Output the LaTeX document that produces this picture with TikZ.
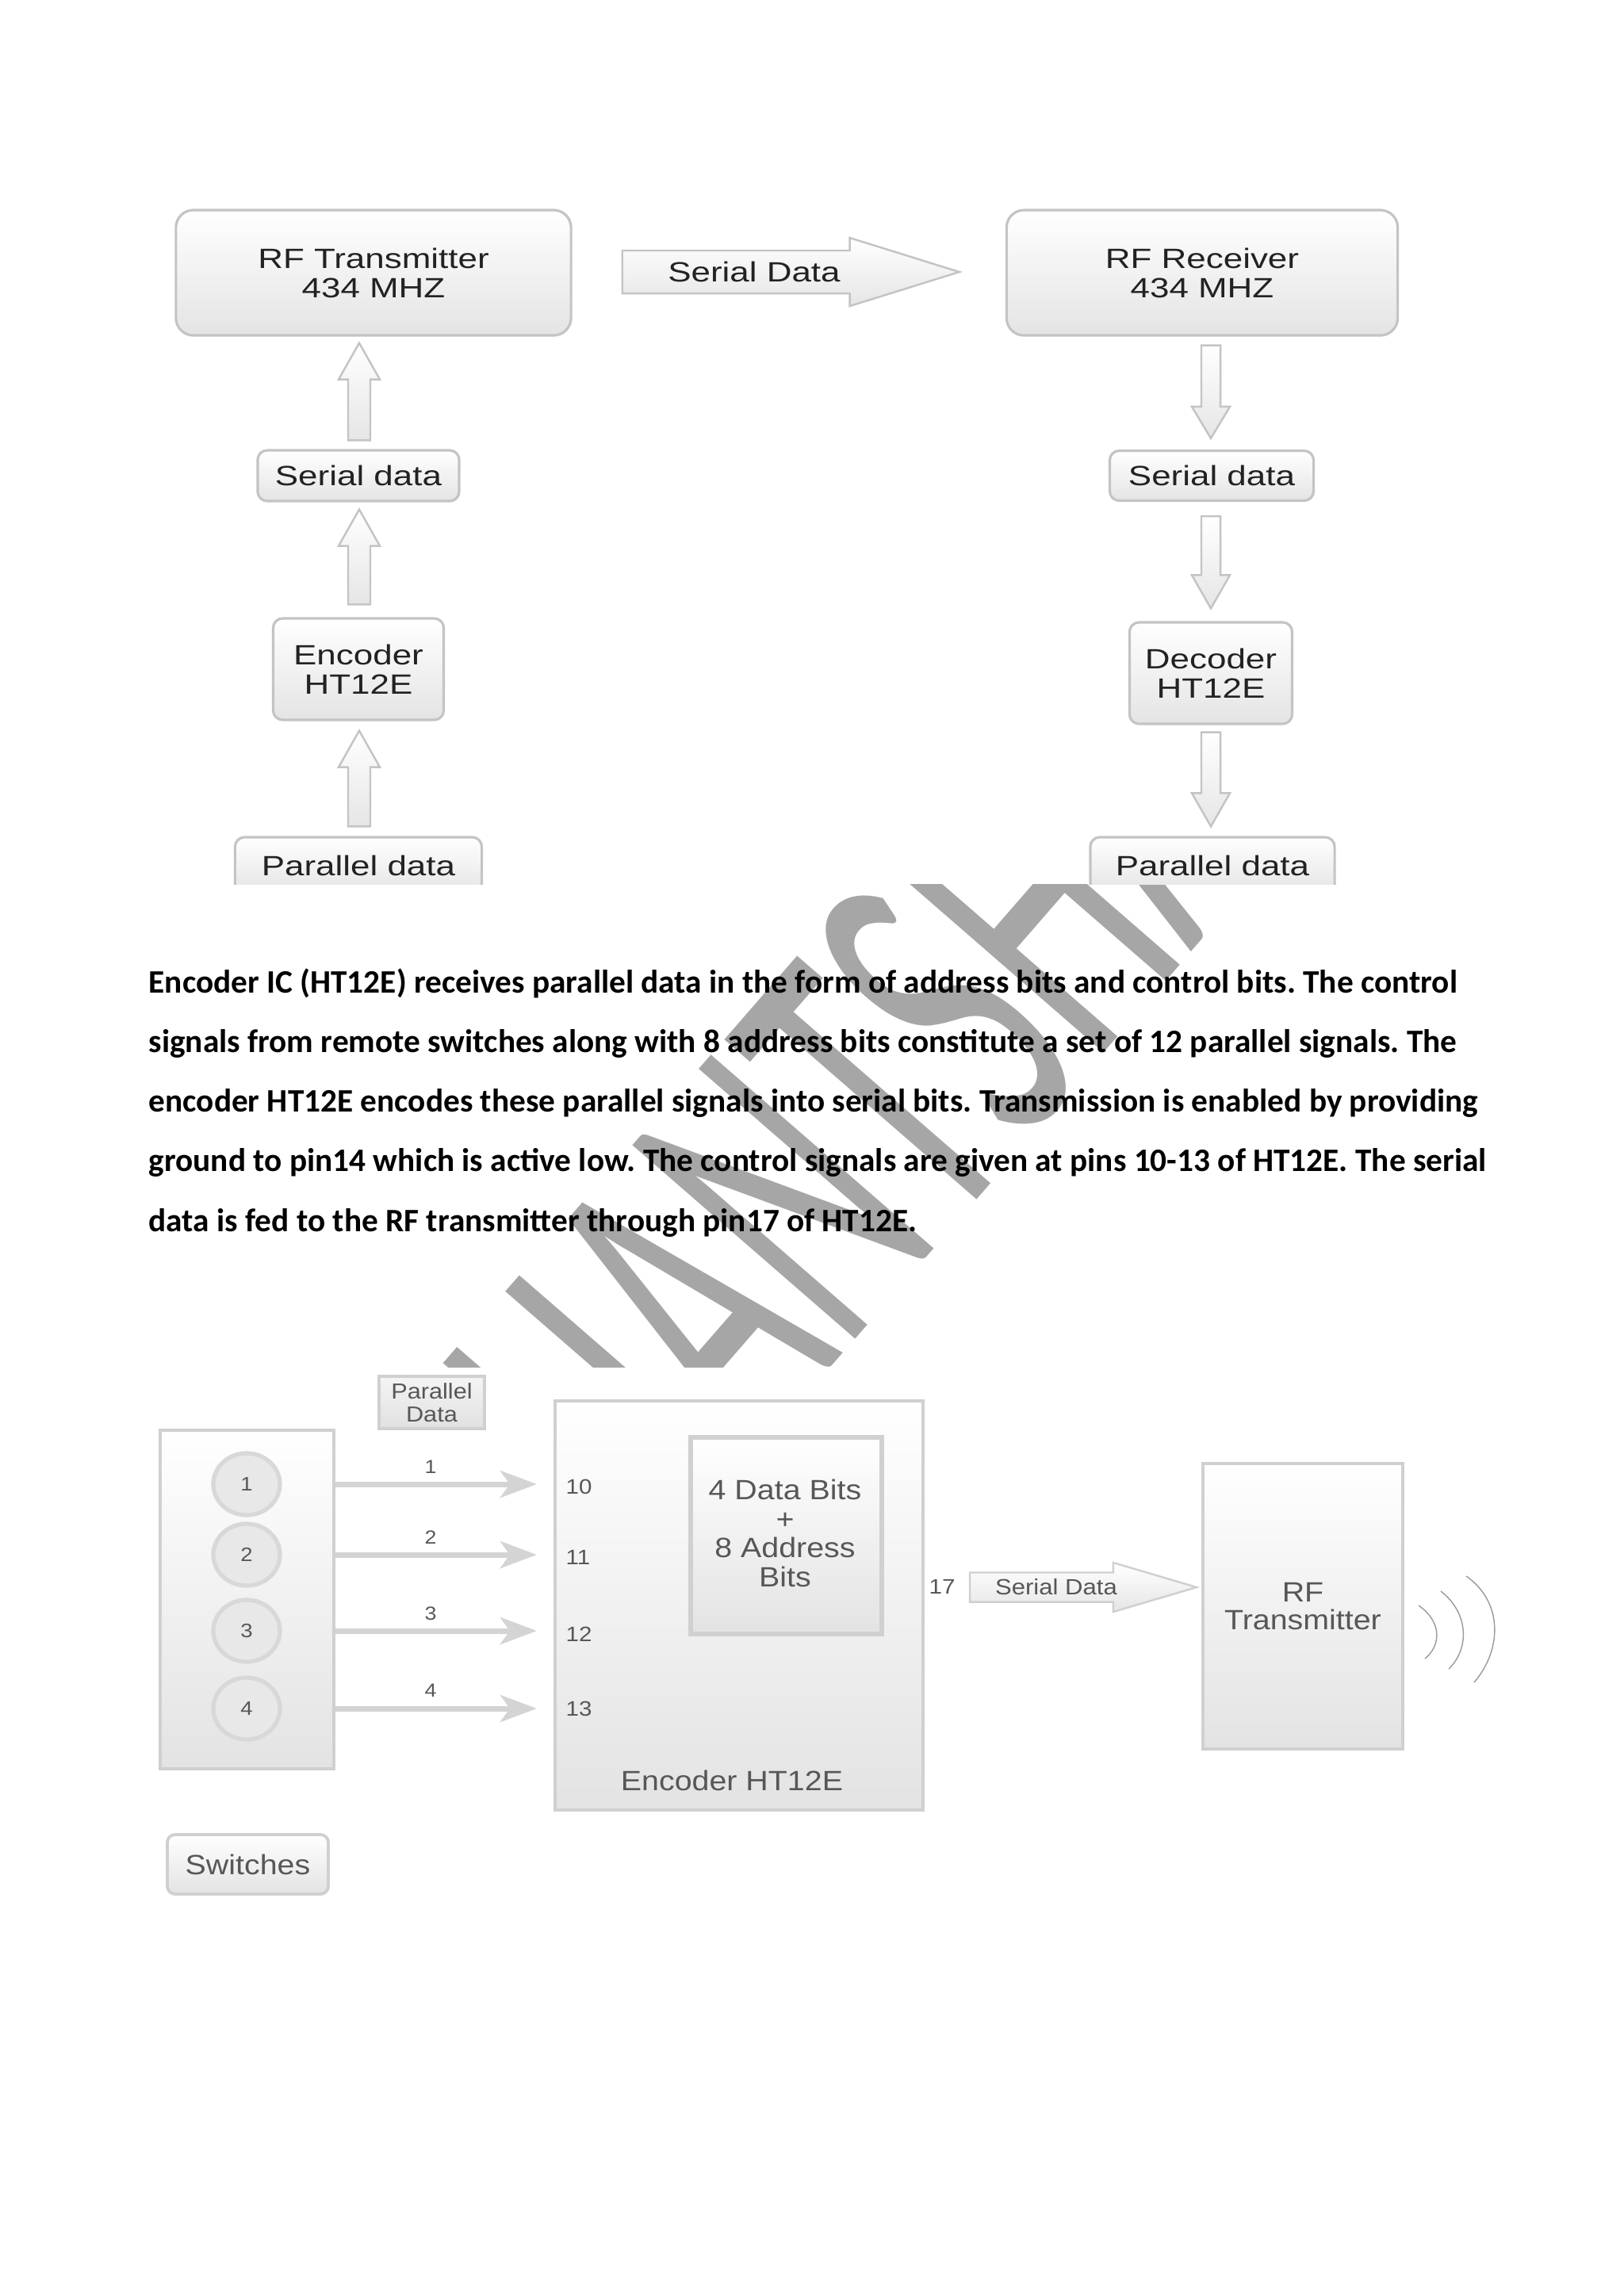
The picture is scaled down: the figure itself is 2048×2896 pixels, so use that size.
\documentclass[tikz,border=0pt]{standalone}
\usepackage{fontspec}
\setmainfont{Liberation Sans}
\newfontfamily\bodyfont{Carlito}
\newfontfamily\wmfont[FakeStretch=0.52]{Carlito}
\newfontfamily\topfont[FakeStretch=1.25]{Liberation Sans}
\newfontfamily\botfont[FakeStretch=1.12]{Liberation Sans}
\usetikzlibrary{calc,arrows.meta,shapes.geometric}
\frenchspacing
\definecolor{tbord}{HTML}{C4C4C4}
\definecolor{ttext}{HTML}{222222}
\definecolor{boxbot}{HTML}{E4E4E4}
\definecolor{bbord}{HTML}{D0D0D0}
\definecolor{btext}{HTML}{575757}
\definecolor{cbord}{HTML}{D8D8D8}
\definecolor{wmark}{HTML}{A6A6A6}
\definecolor{arrowgray}{HTML}{D4D4D4}
\definecolor{wavegray}{HTML}{9A9A9A}
\tikzset{
  tbox/.style={draw=tbord, line width=0.9pt, rounded corners=0.22cm, top color=white, bottom color=boxbot,
    text=ttext, align=center, inner sep=0pt, font=\topfont\fontsize{10}{10.5}\selectfont},
  tsmall/.style={tbox, rounded corners=0.12cm},
  blk/.style={draw=tbord, line width=0.7pt, top color=white, bottom color=black!10},
  bbox/.style={draw=bbord, line width=1.1pt, top color=white, bottom color=black!11,
    text=btext, align=center, inner sep=0pt, font=\botfont\fontsize{10}{10.3}\selectfont},
  swc/.style={ellipse, draw=cbord, line width=1.5pt, fill=black!9, minimum width=0.84cm,
    minimum height=0.78cm, text=btext, font=\botfont\fontsize{7}{8}\selectfont, inner sep=0pt},
  thinarr/.style={draw=arrowgray, line width=0.07cm, -{Stealth[length=0.46cm,width=0.34cm,inset=0.12cm]}},
  btxt/.style={text=btext, inner sep=0pt, align=center, font=\botfont\fontsize{10}{10.3}\selectfont},
  smalltxt/.style={text=btext, inner sep=0pt, font=\botfont\fontsize{6.8}{7}\selectfont},
  pin/.style={text=btext, inner sep=0pt, anchor=west, font=\botfont\fontsize{7.5}{8}\selectfont},
  body/.style={anchor=base west, inner sep=0pt, font=\bodyfont\bfseries\fontsize{11.75}{13}\selectfont},
}
% block arrow: [style]{from}{to}{half shaft}{half head}{head length}
\newcommand\blockarrow[6][blk]{%
  \coordinate (baA) at (#2);
  \coordinate (baB) at (#3);
  \coordinate (baH) at ($(baB)!#6!(baA)$);
  \path[#1] ($(baA)!#4!90:(baB)$) -- ($(baH)!#4!90:(baB)$) -- ($(baH)!#5!90:(baB)$) -- (baB)
    -- ($(baH)!#5!-90:(baB)$) -- ($(baH)!#4!-90:(baB)$) -- ($(baA)!#4!-90:(baB)$) -- cycle;
}
\begin{document}
\begin{tikzpicture}[x=0.01cm, y=-0.01cm]
\useasboundingbox (0,0) rectangle (2048,2896);
\fill[white] (0,0) rectangle (2048,2896);

% watermark
\node[rotate=49, text=wmark, inner sep=0pt, font=\wmfont\fontsize{165}{165}\selectfont] (wm) at (1008,1486) {NISHANTSHAH};

% white image backgrounds
\fill[white] (190,235) rectangle (1778,1115);
\fill[white] (185,1725) rectangle (1900,2410);

% ---------------- top diagram ----------------
\begin{scope}
\clip (0,0) rectangle (2048,1115);
\node[tbox, minimum width=4.98cm, minimum height=1.58cm] (tx) at (471,344) {RF Transmitter\\434 MHZ};
\node[tbox, minimum width=4.93cm, minimum height=1.58cm] (rx) at (1516,344) {RF Receiver\\434 MHZ};
\node[tsmall, minimum width=2.54cm, minimum height=0.64cm] (lser) at (452,600) {Serial data};
\node[tsmall, minimum width=2.15cm, minimum height=1.28cm] (lenc) at (452,844) {Encoder\\HT12E};
\node[tsmall, minimum width=3.11cm, minimum height=0.72cm] (lpar) at (452,1092) {Parallel data};
\node[tsmall, minimum width=2.57cm, minimum height=0.63cm] (rser) at (1528,600) {Serial data};
\node[tsmall, minimum width=2.05cm, minimum height=1.28cm] (rdec) at (1527,849) {Decoder\\HT12E};
\node[tsmall, minimum width=3.08cm, minimum height=0.72cm] (rpar) at (1529,1092) {Parallel data};

\blockarrow{$(tx.east)+(63,-1)$}{$(rx.west)+(-58,-1)$}{0.27cm}{0.43cm}{1.38cm}
\node[text=ttext, inner sep=0pt, font=\topfont\fontsize{10}{10.5}\selectfont] (tsd) at (951,343) {Serial Data};

\blockarrow{$(lser.north)+(1,-11)$}{$(tx.south)+(-18,8)$}{0.14cm}{0.26cm}{0.46cm}
\blockarrow{$(lenc.north)+(1,-16)$}{$(lser.south)+(1,9)$}{0.14cm}{0.26cm}{0.46cm}
\blockarrow{$(lpar.north)+(1,-12)$}{$(lenc.south)+(1,12)$}{0.14cm}{0.26cm}{0.46cm}
\blockarrow{$(rx.south)+(11,11)$}{$(rser.north)+(-1,-14)$}{0.12cm}{0.24cm}{0.40cm}
\blockarrow{$(rser.south)+(-1,18)$}{$(rdec.north)+(0,-16)$}{0.12cm}{0.24cm}{0.42cm}
\blockarrow{$(rdec.south)+(0,9)$}{$(rpar.north)+(-2,-12)$}{0.12cm}{0.24cm}{0.42cm}
\end{scope}

% ---------------- bottom diagram ----------------
\node[bbox, minimum width=2.19cm, minimum height=4.27cm] (sw) at (311.5,2017.5) {};
\node[swc] (c1) at (311,1872) {1};
\node[swc] (c2) at (311,1961) {2};
\node[swc] (c3) at (311,2057) {3};
\node[swc] (c4) at (311,2155) {4};
\node[bbox, minimum width=4.64cm, minimum height=5.16cm] (enc) at (932,2025) {};
\node[bbox, line width=1.5pt, minimum width=2.41cm, minimum height=2.48cm] (inner) at (991.5,1937) {};
\node[btxt, font=\botfont\fontsize{10}{10.4}\selectfont] (innertxt) at (990,1934) {4 Data Bits\\+\\8 Address\\Bits};
\node[btxt] (enclab) at (923,2246) {Encoder HT12E};
\node[bbox, minimum width=2.52cm, minimum height=3.60cm, font=\botfont\fontsize{10}{10.2}\selectfont] (rf) at (1643,2026) {RF\\Transmitter};
\node[bbox, minimum width=1.33cm, minimum height=0.66cm, top color=black!4, bottom color=black!12,
  font=\botfont\fontsize{7.8}{8.2}\selectfont] (plab) at (544.5,1769) {Parallel\\Data};
\node[bbox, rounded corners=0.1cm, minimum width=2.03cm, minimum height=0.75cm] (swl) at (312.5,2351.5) {Switches};

\draw[thinarr] (sw.east |- c1) -- ($(enc.west |- c1)+(-21,0)$);
\draw[thinarr] (sw.east |- c2) -- ($(enc.west |- c2)+(-21,0)$);
\draw[thinarr] (sw.east |- c3) -- ($(enc.west |- c3)+(-21,0)$);
\draw[thinarr] (sw.east |- c4) -- ($(enc.west |- c4)+(-21,0)$);
\node[smalltxt] (l1) at (543,1850) {1};
\node[smalltxt] (l2) at (543,1939) {2};
\node[smalltxt] (l3) at (543,2035) {3};
\node[smalltxt] (l4) at (543,2132) {4};
\node[pin] (p10) at (713,1875) {10};
\node[pin] (p11) at (713,1964) {11};
\node[pin] (p12) at (713,2061) {12};
\node[pin] (p13) at (713,2155) {13};
\node[pin] (p17) at (1171,2001) {17};

\blockarrow[blk, draw=bbord]{$(enc.east)+(57,-23)$}{$(rf.west)+(-6,-24)$}{0.185cm}{0.31cm}{1.05cm}
\node[text=btext, inner sep=0pt, font=\botfont\fontsize{7.9}{8}\selectfont] (bsd) at (1332,2002) {Serial Data};

\draw[wavegray, line width=0.4pt] (1789,2025) .. controls (1818,2045) and (1818,2075) .. (1797,2092);
\draw[wavegray, line width=0.4pt] (1817,2007) .. controls (1853,2035) and (1853,2080) .. (1827,2105);
\draw[wavegray, line width=0.4pt] (1849,1988) .. controls (1895,2020) and (1895,2080) .. (1859,2122);

% ---------------- body text ----------------
\node[body] (t1) at (187,1252) {Encoder IC (HT12E) receives parallel data in the form of address bits and control bits. The control};
\node[body] (t2) at (187,1327) {signals from remote switches along with 8 address bits constitute a set of 12 parallel signals. The};
\node[body] (t3) at (187,1402) {encoder HT12E encodes these parallel signals into serial bits. Transmission is enabled by providing};
\node[body] (t4) at (187,1477) {ground to pin14 which is active low. The control signals are given at pins 10-13 of HT12E. The serial};
\node[body] (t5) at (187,1553) {data is fed to the RF transmitter through pin17 of HT12E.};
\end{tikzpicture}
\end{document}
